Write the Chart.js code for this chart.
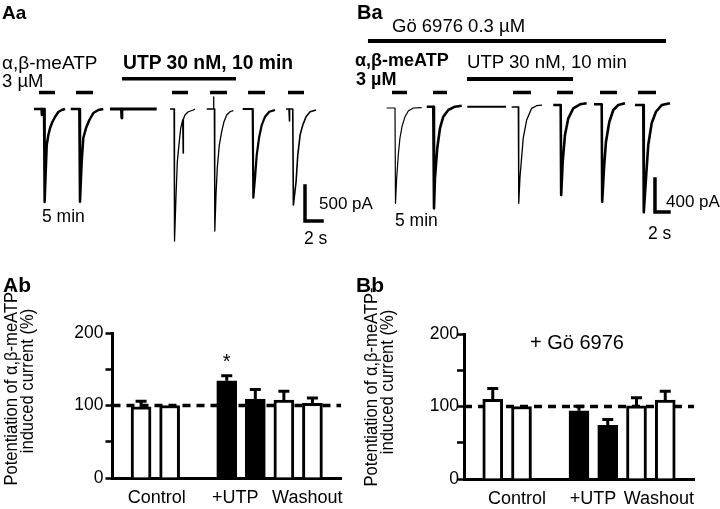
<!DOCTYPE html>
<html>
<head>
<meta charset="utf-8">
<script src="https://cdn.jsdelivr.net/npm/chart.js@4.4.1/dist/chart.umd.min.js"></script>
<style>
  body { margin: 0; background: #fff; }
  #fig { position: relative; width: 720px; height: 509px; overflow: hidden; background: #fff;
         font-family: 'Liberation Sans', Arial, sans-serif; color: #000; }
  canvas { position: absolute; }
  .t { position: absolute; line-height: 1; white-space: nowrap; }
  .b { font-weight: bold; }
</style>
</head>
<body>
<div id="fig">
  <canvas id="aa" width="360" height="260" style="left:0;top:0"></canvas>
  <canvas id="ba" width="360" height="260" style="left:360px;top:0"></canvas>
  <canvas id="ab" width="360" height="249" style="left:0;top:260px"></canvas>
  <canvas id="bb" width="360" height="249" style="left:360px;top:260px"></canvas>

  <div class="t b" style="left:2px;top:2.5px;font-size:19px">Aa</div>
  <div class="t" style="left:2px;top:52.5px;font-size:19px">α,β-meATP</div>
  <div class="t" style="left:2px;top:71.5px;font-size:18.5px">3 µM</div>
  <div class="t b" style="left:123px;top:52.5px;font-size:19.3px">UTP 30 nM, 10 min</div>
  <div class="t" style="left:42px;top:207.7px;font-size:17.5px">5 min</div>
  <div class="t" style="left:319px;top:194.8px;font-size:17px">500 pA</div>
  <div class="t" style="left:304px;top:229.7px;font-size:17.5px">2 s</div>

  <div class="t b" style="left:357px;top:2px;font-size:20px">Ba</div>
  <div class="t" style="left:392px;top:16.6px;font-size:18.5px">Gö 6976 0.3 µM</div>
  <div class="t b" style="left:355px;top:50.7px;font-size:18px">α,β-meATP</div>
  <div class="t b" style="left:356px;top:69.7px;font-size:18px">3 µM</div>
  <div class="t" style="left:467px;top:52.6px;font-size:18.6px">UTP 30 nM, 10 min</div>
  <div class="t" style="left:395px;top:211.7px;font-size:17.5px">5 min</div>
  <div class="t" style="left:666px;top:192.8px;font-size:17px">400 pA</div>
  <div class="t" style="left:648px;top:224.7px;font-size:17.5px">2 s</div>

  <div class="t b" style="left:3px;top:274.3px;font-size:21px">Ab</div>
  <div class="t b" style="left:356px;top:274.3px;font-size:21px">Bb</div>
  <div class="t" style="left:530px;top:332.4px;font-size:20px">+ Gö 6976</div>
</div>

<script>
// ---- bar charts (potentiation, % of control) ----
let slots  = ['', 'Control', 'Control', '', '+UTP', '+UTP', 'Washout', 'Washout', ''];
let groups = ['Control', '+UTP', 'Washout'];
let meanAb = [null, 98, 100, null, 134, 109, 107.5, 103, null];
let semAb  = [null, 8, 0, null, 7, 13, 12, 7.5, null];
let meanBb = [null, 110, 100, null, 94, 74, 101, 109, null];
let semBb  = [null, 15, 0, null, 6.5, 8, 11, 12, null];
let refLine = [100, 100, 100, 100, 100, 100, 100, 100, 100];
let sigAb = [4];   // bar with asterisk
let yTitle = ['Potentiation of α,β-meATP-', 'induced current (%)'];

// ---- traces: onset (s) of each sweep and [dt s, current pA] points ----
let aaOnset = [5.18, 9.33, 12.94, 20.47, 25.21, 29.73, 34.44];
let aaSweeps = [
  [[-1.18,0],[-0.29,0],[-0.27,-86],[-0.24,0],[0,0],[0.07,-1330],[0.2,-901],[0.32,-515],[0.51,-372],[0.71,-272],[0.98,-186],[1.29,-114],[1.68,-43],[2.08,-14],[2.47,0]],
  [[-1.01,0],[0,0],[0.08,-1326],[0.28,-754],[0.47,-415],[0.79,-272],[1.18,-157],[1.65,-57],[2.24,-14],[2.82,0]],
  [[0,0],[1.35,0],[1.38,-129],[1.41,0],[5.49,0]],
  [[-0.47,0],[0,0],[0.06,-1888],[0.24,-1230],[0.39,-753],[0.62,-467],[0.79,-272],[1.02,-157],[1.07,-630],[1.11,-143],[1.29,-86],[1.68,-39],[2.27,-14],[2.47,0]],
  [[-0.89,0],[-0.09,0],[-0.08,172],[-0.06,0],[0,0],[0.06,-1745],[0.2,-1230],[0.35,-844],[0.59,-515],[0.87,-324],[1.14,-181],[1.46,-86],[1.85,-39],[2.24,-24]],
  [[-1.18,0],[0,0],[0.07,-1268],[0.27,-987],[0.47,-658],[0.74,-415],[1.06,-229],[1.45,-110],[1.95,-39],[2.62,-14]],
  [[-0.79,0],[-0.44,0],[-0.4,-172],[-0.36,0],[0,0],[0.07,-1373],[0.39,-1040],[0.59,-658],[0.86,-372],[1.18,-229],[1.56,-110],[2.04,-39],[2.74,-14]]
];
let aaAppStart = [4.59, 8.94, 20.24, 24.71, 29.18, 33.88];
let aaAppEnd   = [6.47, 10.94, 22.12, 26.71, 31.18, 35.76];
let aaAppLevel = 236;
let aaUtp = [14.35, 27.76], aaUtpLevel = 433;
let aaScale = { t: 35.88, pA: -1602, dI: 500, dt: 2 };

let baOnset = [5.0, 10.47, 15.33, 22.61, 28.67, 34.53, 40.47];
let baSweeps = [
  [[-1.19,0],[0,0],[0.07,-1153],[0.24,-847],[0.47,-569],[0.71,-363],[1.0,-226],[1.43,-105],[1.9,-36],[2.61,0],[3.81,4]],
  [[-0.94,16],[0,16],[0.1,-1214],[0.24,-847],[0.57,-484],[0.96,-242],[1.43,-105],[2.14,-24],[3.1,16],[4.06,28]],
  [[0,16],[5.53,16]],
  [[-0.94,12],[0,12],[0.07,-1153],[0.24,-847],[0.71,-363],[1.2,-145],[1.91,-4],[2.63,28],[3.39,36]],
  [[-1.06,36],[0,36],[0.07,-1053],[0.29,-650],[0.61,-327],[1.09,-125],[1.8,-4],[2.76,45],[3.71,57]],
  [[-1.1,45],[0,45],[0.07,-1134],[0.33,-726],[0.61,-408],[1.09,-166],[1.66,-24],[2.37,36],[3.33,57]],
  [[-1.19,36],[0,36],[0.07,-1262],[0.39,-847],[0.71,-448],[1.2,-185],[1.81,-45],[2.63,36],[3.81,57]]
];
let baAppStart = [4.57, 10.43, 21.86, 28.14, 34.29, 39.71];
let baAppEnd   = [6.71, 12.43, 24.43, 30.43, 36.71, 42.29];
let baAppLevel = 188;
let baUtp = [15.29, 30.43], baUtpLevel = 351;
let baGo = [1.14, 43.71], baGoLevel = 811;
let baScale = { t: 42.14, pA: -1258, dI: 400, dt: 2 };

const FONT = 'Liberation Sans';

let seg = (x1, x2, y, w) => ({
  data: [{ x: x1, y: y }, { x: x2, y: y }],
  borderColor: '#000', borderWidth: w, pointRadius: 0, borderCapStyle: 'butt'
});

let makeTraces = (id, onset, sweeps, widths, bars, scale, range) => {
  let sets = sweeps.map((pts, i) => ({
    data: pts.map(p => ({ x: onset[i] + p[0], y: p[1] })),
    borderColor: '#000', borderWidth: widths[i], pointRadius: 0,
    borderJoinStyle: 'round', tension: 0
  }));
  bars.forEach(b => sets.push(seg(b[0], b[1], b[2], b[3])));
  // scale bar (L)
  sets.push({
    data: [{ x: scale.t, y: scale.pA + scale.dI }, { x: scale.t, y: scale.pA }, { x: scale.t + scale.dt, y: scale.pA }],
    borderColor: '#000', borderWidth: 3.5, pointRadius: 0, borderJoinStyle: 'miter', borderCapStyle: 'square'
  });
  return new Chart(document.getElementById(id), {
    type: 'line',
    data: { datasets: sets },
    options: {
      responsive: false, animation: false,
      layout: { padding: 0 },
      plugins: { legend: { display: false }, tooltip: { enabled: false } },
      scales: {
        x: { type: 'linear', display: false, min: 0, max: range.tmax },
        y: { type: 'linear', display: false, min: range.imin, max: range.imax }
      }
    }
  });
};

let aaBars = aaAppStart.map((s, i) => [s, aaAppEnd[i], aaAppLevel, 3.5]);
aaBars.push([aaUtp[0], aaUtp[1], aaUtpLevel, 3.5]);
makeTraces('aa', aaOnset, aaSweeps, [2.5, 2.5, 3, 1.3, 1.3, 2.2, 1.6], aaBars, aaScale,
  { tmax: 42.35, imin: -2159, imax: 1559 });

let baBars = baAppStart.map((s, i) => [s, baAppEnd[i], baAppLevel, 3.5]);
baBars.push([baUtp[0], baUtp[1], baUtpLevel, 4]);
baBars.push([baGo[0], baGo[1], baGoLevel, 4]);
makeTraces('ba', baOnset, baSweeps, [1.2, 2.6, 2, 1.3, 2.6, 2.6, 2.6], baBars, baScale,
  { tmax: 51.43, imin: -1839, imax: 1307 });

let makeBars = (id, means, sems, sig, lay) => {
  let fills = slots.map((s, i) => s === '+UTP' ? '#000' : '#fff');
  return new Chart(document.getElementById(id), {
    type: 'bar',
    data: {
      labels: slots,
      datasets: [
        { type: 'line', data: refLine, borderColor: '#000', borderWidth: 3.5, borderDash: [8, 6],
          pointRadius: 0, order: 2 },
        { data: means, backgroundColor: fills, borderColor: '#000', borderWidth: 3,
          barThickness: 20, order: 1 }
      ]
    },
    options: {
      responsive: false, animation: false,
      layout: { padding: { top: lay.top, right: lay.right, bottom: 0, left: 0 } },
      plugins: { legend: { display: false }, tooltip: { enabled: false } },
      scales: {
        x: {
          offset: false,
          afterFit: s => { s.height = lay.bottom; },
          border: { display: true, width: 3, color: '#000' },
          grid: { display: false },
          ticks: { display: false }
        },
        y: {
          min: 0, max: 200,
          afterFit: s => { s.width = lay.left; },
          border: { display: true, width: 3, color: '#000' },
          grid: { drawOnChartArea: false, drawTicks: true, tickLength: 7, tickWidth: 2.5, tickColor: '#000' },
          ticks: { stepSize: 50, padding: lay.tickPad, color: '#000', font: { family: FONT, size: 17.5 },
                   callback: v => v % 100 === 0 ? v : '' }
        }
      }
    },
    plugins: [{
      id: 'extras',
      afterDatasetsDraw: chart => {
        let ctx = chart.ctx, ys = chart.scales.y, xs = chart.scales.x, area = chart.chartArea;
        let meta = chart.getDatasetMeta(1);
        ctx.save();
        ctx.strokeStyle = '#000';
        ctx.lineWidth = 3;
        meta.data.forEach((bar, i) => {
          if (means[i] == null || !sems[i]) return;
          let top = ys.getPixelForValue(means[i] + sems[i]);
          ctx.beginPath();
          ctx.moveTo(bar.x, bar.y);
          ctx.lineTo(bar.x, top);
          ctx.moveTo(bar.x - 5.5, top);
          ctx.lineTo(bar.x + 5.5, top);
          ctx.stroke();
        });
        ctx.fillStyle = '#000';
        ctx.textBaseline = 'alphabetic';
        ctx.textAlign = 'center';
        // asterisk
        ctx.font = '20px "' + FONT + '"';
        sig.forEach(i => {
          let top = ys.getPixelForValue(means[i] + sems[i]);
          ctx.fillText('*', xs.getPixelForValue(i), top - 7.5);
        });
        // group labels
        ctx.font = '18px "' + FONT + '"';
        groups.forEach((g, k) => {
          ctx.fillText(g, xs.getPixelForValue(lay.groupPos[k]), area.bottom + 25);
        });
        // y title, two rotated lines, slightly condensed
        ctx.font = '18px "' + FONT + '"';
        let cy = (area.top + area.bottom) / 2;
        yTitle.forEach((line, k) => {
          ctx.save();
          ctx.translate(lay.titleX[k], cy + lay.titleDy[k]);
          ctx.rotate(-Math.PI / 2);
          ctx.scale(0.92, 1);
          ctx.fillText(line, 0, 0);
          ctx.restore();
        });
        ctx.restore();
      }
    }]
  });
};

makeBars('ab', meanAb, semAb, sigAb, {
  top: 73, right: 19, bottom: 31, left: 112.5, tickPad: 2,
  groupPos: [1.55, 4.3, 6.82], titleX: [17, 32.5], titleDy: [-19.5, -24.5]
});
makeBars('bb', meanBb, semBb, [], {
  top: 74, right: 26, bottom: 30, left: 104, tickPad: -2,
  groupPos: [1.84, 4.49, 6.78], titleX: [17, 32.5], titleDy: [-19.5, -24.5]
});
</script>
</body>
</html>
